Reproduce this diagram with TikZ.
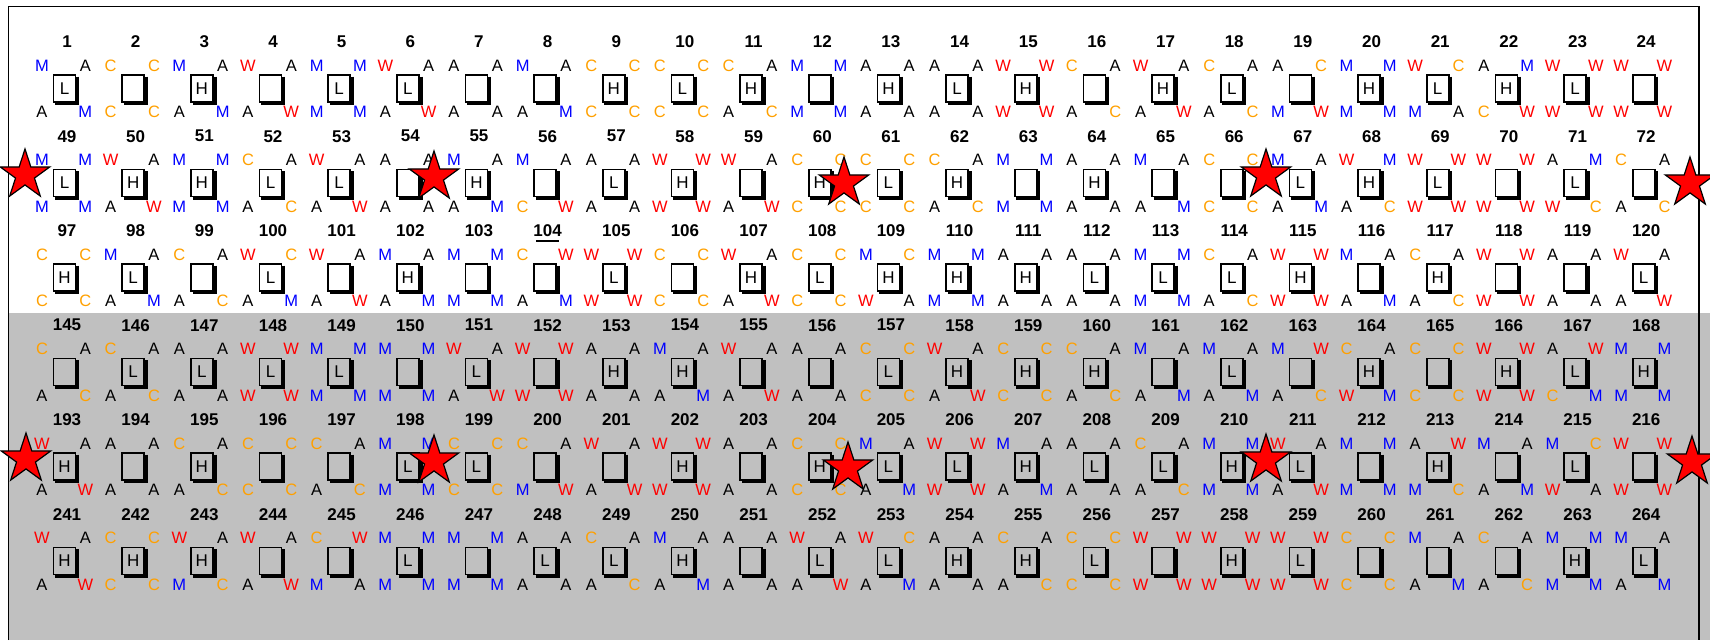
\documentclass[tikz,border=0pt]{standalone}
\usepackage{fontspec}
\setmainfont{Liberation Sans}
\usetikzlibrary{shapes.geometric}
\definecolor{cM}{RGB}{0,0,255}
\definecolor{cA}{RGB}{0,0,0}
\definecolor{cC}{RGB}{255,160,0}
\definecolor{cW}{RGB}{255,0,0}
\definecolor{bandgray}{RGB}{192,192,192}
\tikzset{
  lt/.style={inner sep=0pt, font=\fontsize{16.5}{18}\selectfont, text=c#1},
  num/.style={inner sep=0pt, font=\fontsize{17}{18}\selectfont\bfseries},
  cellbox/.style={draw, line width=1.6pt, minimum width=22pt, minimum height=27pt, inner sep=0pt, font=\fontsize{17}{18}\selectfont},
  boxshade/.style={line width=3pt},
  redstar/.style={star, star points=5, star point ratio=2.618, minimum size=52pt, inner sep=0pt, fill=red, draw=black, line width=1.2pt},
  frameline/.style={line width=1.5pt},
  cursorline/.style={line width=2pt}
}
\newcommand\gridrow[2]{%
  \foreach \vn/\va/\vb/\vx/\vc/\vd [count=\vi from 0] in {#2} {
    \pgfmathsetmacro\X{64.5+68.66*\vi}
    \pgfmathsetmacro\Y{88.3+94.5*#1}
    \node[num] (n\vn) at (\X+2.5,\Y-46.6) {\vn};
    \node[cellbox] (bx\vn) at (\X,\Y) {\if\vx E\else\vx\fi};
    \draw[boxshade] ([xshift=1.4pt,yshift=-2.5pt]bx\vn.north east) -- ([xshift=1.4pt,yshift=-1.3pt]bx\vn.south east) -- ([xshift=2.5pt,yshift=-1.3pt]bx\vn.south west);
    \node[lt=\va] (tl\vn) at (\X-22.5,\Y-22.6) {\va};
    \node[lt=\vb] (tr\vn) at (\X+20.8,\Y-22.6) {\vb};
    \node[lt=\vc] (bl\vn) at (\X-22.5,\Y+24) {\vc};
    \node[lt=\vd] (br\vn) at (\X+20.8,\Y+24) {\vd};
  }%
}
\begin{document}
\begin{tikzpicture}[x=1pt,y=-1pt]
\useasboundingbox (0,0) rectangle (1710,640);
\fill[bandgray] (8.5,313) rectangle (1710,640);
\draw[frameline] (8.5,640) -- (8.5,6.5) -- (1699,6.5) -- (1699,640);

\gridrow{0}{1/M/A/L/A/M,2/C/C/E/C/C,3/M/A/H/A/M,4/W/A/E/A/W,5/M/M/L/M/M,6/W/A/L/A/W,7/A/A/E/A/A,8/M/A/E/A/M,9/C/C/H/C/C,10/C/C/L/C/C,11/C/A/H/A/C,12/M/M/E/M/M,13/A/A/H/A/A,14/A/A/L/A/A,15/W/W/H/W/W,16/C/A/E/A/C,17/W/A/H/A/W,18/C/A/L/A/C,19/A/C/E/M/W,20/M/M/H/M/M,21/W/C/L/M/A,22/A/M/H/C/W,23/W/W/L/W/W,24/W/W/E/W/W}

\gridrow{1}{49/M/M/L/M/M,50/W/A/H/A/W,51/M/M/H/M/M,52/C/A/L/A/C,53/W/A/L/A/W,54/A/A/E/A/A,55/M/A/H/A/M,56/M/A/E/C/W,57/A/A/L/A/A,58/W/W/H/W/W,59/W/A/E/A/W,60/C/C/H/C/C,61/C/C/L/C/C,62/C/A/H/A/C,63/M/M/E/M/M,64/A/A/H/A/A,65/M/A/E/A/M,66/C/C/E/C/C,67/M/A/L/A/M,68/W/M/H/A/C,69/W/W/L/W/W,70/W/W/E/W/W,71/A/M/L/W/C,72/C/A/E/A/C}

\gridrow{2}{97/C/C/H/C/C,98/M/A/L/A/M,99/C/A/E/A/C,100/W/C/L/A/M,101/W/A/E/A/W,102/M/A/H/A/M,103/M/M/E/M/M,104/C/W/E/A/M,105/W/W/L/W/W,106/C/C/E/C/C,107/W/A/H/A/W,108/C/C/L/C/C,109/M/C/H/W/A,110/M/M/H/M/M,111/A/A/H/A/A,112/A/A/L/A/A,113/M/M/L/M/M,114/C/A/L/A/C,115/W/W/H/W/W,116/M/A/E/A/M,117/C/A/H/A/C,118/W/W/E/W/W,119/A/A/E/A/A,120/W/A/L/A/W}

\gridrow{3}{145/C/A/E/A/C,146/C/A/L/A/C,147/A/A/L/A/A,148/W/W/L/W/W,149/M/M/L/M/M,150/M/M/E/M/M,151/W/A/L/A/W,152/W/W/E/W/W,153/A/A/H/A/A,154/M/A/H/A/M,155/W/A/E/A/W,156/A/A/E/A/A,157/C/C/L/C/C,158/W/A/H/A/W,159/C/C/H/C/C,160/C/A/H/A/C,161/M/A/E/A/M,162/M/A/L/A/M,163/M/W/E/A/C,164/C/A/H/W/M,165/C/C/E/C/C,166/W/W/H/W/W,167/A/W/L/C/M,168/M/M/H/M/M}

\gridrow{4}{193/W/A/H/A/W,194/A/A/E/A/A,195/C/A/H/A/C,196/C/C/E/C/C,197/C/A/E/A/C,198/M/M/L/M/M,199/C/C/L/C/C,200/C/A/E/M/W,201/W/A/E/A/W,202/W/W/H/W/W,203/A/A/E/A/A,204/C/C/H/C/C,205/M/A/L/A/M,206/W/W/L/W/W,207/M/A/H/A/M,208/A/A/L/A/A,209/C/A/L/A/C,210/M/M/H/M/M,211/W/A/L/A/W,212/M/M/E/M/M,213/A/W/H/M/C,214/M/A/E/A/M,215/M/C/L/W/A,216/W/W/E/W/W}

\gridrow{5}{241/W/A/H/A/W,242/C/C/H/C/C,243/W/A/H/M/C,244/W/A/E/A/W,245/C/W/E/M/A,246/M/M/L/M/M,247/M/M/E/M/M,248/A/A/L/A/A,249/C/A/L/A/C,250/M/A/H/A/M,251/A/A/E/A/A,252/W/A/L/A/W,253/W/C/L/A/M,254/A/A/H/A/A,255/C/A/H/A/C,256/C/C/L/C/C,257/W/W/E/W/W,258/W/W/H/W/W,259/W/W/L/W/W,260/C/C/E/C/C,261/M/A/E/A/M,262/C/A/E/A/C,263/M/M/H/M/M,264/M/A/L/A/M}

\draw[cursorline] ([xshift=3pt,yshift=-4.5pt]n104.south west) -- ([xshift=-3pt,yshift=-4.5pt]n104.south east);

\node[redstar] (s1) at (25,175) {};
\node[redstar] (s2) at (434,177) {};
\node[redstar] (s3) at (844,183) {};
\node[redstar] (s4) at (1266,175) {};
\node[redstar] (s5) at (1690,183) {};
\node[redstar] (s6) at (26,459) {};
\node[redstar] (s7) at (434,461) {};
\node[redstar] (s8) at (848,468) {};
\node[redstar] (s9) at (1266,460) {};
\node[redstar] (s10) at (1692,462) {};
\end{tikzpicture}
\end{document}
